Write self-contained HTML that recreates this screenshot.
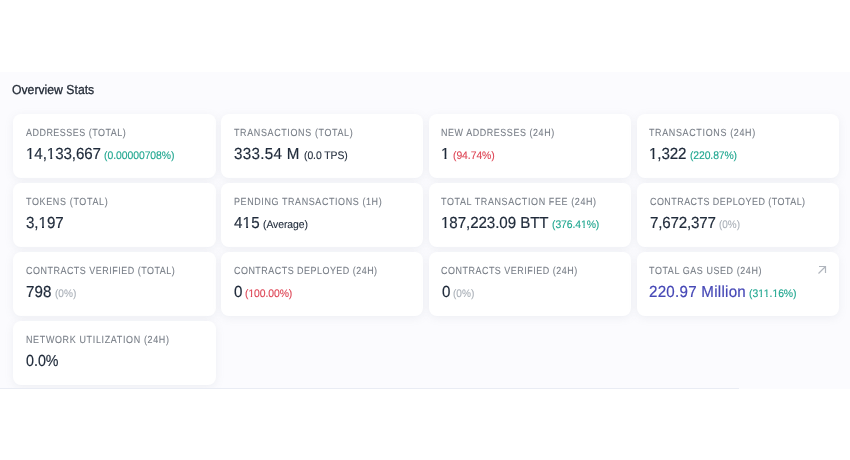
<!DOCTYPE html>
<html>
<head>
<meta charset="utf-8">
<style>
*{box-sizing:border-box;margin:0;padding:0}
html,body{width:850px;height:460px;background:#fff;overflow:hidden;font-family:"Liberation Sans",sans-serif;text-rendering:geometricPrecision;}
#sec{position:absolute;left:0;top:72px;width:850px;height:317px;background:#fbfbfe;overflow:hidden;}
#line{position:absolute;left:0;top:388px;width:738.5px;height:1px;background:#e9ecf4;}
.h{font-size:13px;line-height:16px;color:#1f2733;-webkit-text-stroke:0.3px #1f2733;}
.card{position:absolute;width:202.5px;height:63.6px;background:#fff;border-radius:8px;box-shadow:0 2px 8px rgba(140,152,164,.12);}
.t{position:absolute;white-space:nowrap;}
#txt{position:absolute;left:0;top:0;width:850px;height:460px;will-change:transform;}
.l{font-size:10.3px;line-height:12px;color:#777d86;-webkit-text-stroke:0.1px;}
.v{font-size:16px;line-height:20px;color:#1f2a3a;-webkit-text-stroke:0.2px;}
.s{font-size:11px;line-height:14px;color:#1f2a3a;-webkit-text-stroke:0.12px;}
.o{display:inline-block;}
.v .o{clip-path:polygon(0 0,100% 0,100% 11.9px,0.36em 11.9px,0.36em 100%,0.232em 100%,0.232em 11.9px,0 11.9px);}
.s .o{clip-path:polygon(0 0,100% 0,100% 7.9px,0.365em 7.9px,0.365em 100%,0.228em 100%,0.228em 7.9px,0 7.9px);}
.g{color:#1fa68f}.r{color:#dd4454}.m{color:#aab0b8}.d{color:#1f2a3a}.p{color:#4648b6}
</style>
</head>
<body>


<div id="sec">
<div class="card" style="left:13.0px;top:42.1px"></div>
<div class="card" style="left:220.9px;top:42.1px"></div>
<div class="card" style="left:428.8px;top:42.1px"></div>
<div class="card" style="left:636.7px;top:42.1px"></div>
<div class="card" style="left:13.0px;top:111.1px"></div>
<div class="card" style="left:220.9px;top:111.1px"></div>
<div class="card" style="left:428.8px;top:111.1px"></div>
<div class="card" style="left:636.7px;top:111.1px"></div>
<div class="card" style="left:13.0px;top:180.1px"></div>
<div class="card" style="left:220.9px;top:180.1px"></div>
<div class="card" style="left:428.8px;top:180.1px"></div>
<div class="card" style="left:636.7px;top:180.1px"></div>
<div class="card" style="left:13.0px;top:249.1px"></div>
</div>
<div id="line"></div>
<svg style="position:absolute;left:817px;top:265px" width="10" height="10" viewBox="0 0 10 10"><path d="M2 1.5 H8.5 V8 M8.5 1.5 L1.5 8.5" fill="none" stroke="#b0b5bd" stroke-width="1.2"/></svg>
<div id="txt">
<div id="ttl" class="t h " style="left:12.07px;top:81.50px;transform-origin:0 0.0px;transform:scale(0.9405,1.000)">Overview Stats</div>
<div id="l00" class="t l " style="left:26.34px;top:128.33px;letter-spacing:0.572px;transform-origin:0 0;transform:scaleX(0.870)">ADDRESSES (TOTAL)</div>
<div id="v00" class="t v " style="left:26.13px;top:144.86px;letter-spacing:-0.083px;transform-origin:0 0;transform:scaleX(0.945)"><span class="o">1</span>4,<span class="o">1</span>33,667</div>
<div id="s00" class="t s g" style="left:104.31px;top:149.48px;letter-spacing:-0.053px;transform-origin:0 0;transform:scaleX(0.945)">(0.00000708%)</div>
<div id="l01" class="t l " style="left:234.23px;top:128.33px;letter-spacing:0.726px;transform-origin:0 0;transform:scaleX(0.870)">TRANSACTIONS (TOTAL)</div>
<div id="v01" class="t v " style="left:233.73px;top:144.86px;letter-spacing:0.343px;transform-origin:0 0;transform:scaleX(0.945)">333.54 M</div>
<div id="s01" class="t s d" style="left:303.81px;top:149.48px;letter-spacing:-0.068px;transform-origin:0 0;transform:scaleX(0.945)">(0.0 TPS)</div>
<div id="l02" class="t l " style="left:441.16px;top:128.33px;letter-spacing:0.645px;transform-origin:0 0;transform:scaleX(0.870)">NEW ADDRESSES (24H)</div>
<div id="v02" class="t v " style="left:441.33px;top:144.86px;letter-spacing:0.000px;transform-origin:0 0;transform:scaleX(0.945)"><span class="o">1</span></div>
<div id="s02" class="t s r" style="left:452.72px;top:149.48px;letter-spacing:-0.064px;transform-origin:0 0;transform:scaleX(0.945)">(94.74%)</div>
<div id="l03" class="t l " style="left:649.18px;top:128.33px;letter-spacing:0.750px;transform-origin:0 0;transform:scaleX(0.870)">TRANSACTIONS (24H)</div>
<div id="v03" class="t v " style="left:649.23px;top:144.86px;letter-spacing:-0.091px;transform-origin:0 0;transform:scaleX(0.945)"><span class="o">1</span>,322</div>
<div id="s03" class="t s g" style="left:689.53px;top:149.48px;letter-spacing:-0.119px;transform-origin:0 0;transform:scaleX(0.945)">(220.87%)</div>
<div id="l10" class="t l " style="left:26.23px;top:197.33px;letter-spacing:0.753px;transform-origin:0 0;transform:scaleX(0.870)">TOKENS (TOTAL)</div>
<div id="v10" class="t v " style="left:25.64px;top:213.86px;letter-spacing:-0.047px;transform-origin:0 0;transform:scaleX(0.945)">3,<span class="o">1</span>97</div>
<div id="l11" class="t l " style="left:233.77px;top:197.33px;letter-spacing:0.690px;transform-origin:0 0;transform:scaleX(0.870)">PENDING TRANSACTIONS (1H)</div>
<div id="v11" class="t v " style="left:234.23px;top:213.86px;letter-spacing:0.220px;transform-origin:0 0;transform:scaleX(0.945)">4<span class="o">1</span>5</div>
<div id="s11" class="t s d" style="left:262.75px;top:218.48px;letter-spacing:-0.066px;transform-origin:0 0;transform:scaleX(0.945)">(Average)</div>
<div id="l12" class="t l " style="left:441.28px;top:197.33px;letter-spacing:0.708px;transform-origin:0 0;transform:scaleX(0.870)">TOTAL TRANSACTION FEE (24H)</div>
<div id="v12" class="t v " style="left:441.11px;top:213.86px;letter-spacing:-0.068px;transform-origin:0 0;transform:scaleX(0.945)"><span class="o">1</span>87,223.09 BTT</div>
<div id="s12" class="t s g" style="left:551.75px;top:218.48px;letter-spacing:-0.087px;transform-origin:0 0;transform:scaleX(0.945)">(376.4<span class="o">1</span>%)</div>
<div id="l13" class="t l " style="left:649.56px;top:197.33px;letter-spacing:0.531px;transform-origin:0 0;transform:scaleX(0.870)">CONTRACTS DEPLOYED (TOTAL)</div>
<div id="v13" class="t v " style="left:649.58px;top:213.86px;letter-spacing:-0.174px;transform-origin:0 0;transform:scaleX(0.945)">7,672,377</div>
<div id="s13" class="t s m" style="left:719.08px;top:218.48px;transform-origin:0 1.8px;transform:scale(0.9027,1.000)">(0%)</div>
<div id="l20" class="t l " style="left:25.56px;top:266.33px;letter-spacing:0.587px;transform-origin:0 0;transform:scaleX(0.870)">CONTRACTS VERIFIED (TOTAL)</div>
<div id="v20" class="t v " style="left:26.08px;top:282.86px;letter-spacing:0.159px;transform-origin:0 0;transform:scaleX(0.945)">798</div>
<div id="s20" class="t s m" style="left:55.00px;top:287.48px;transform-origin:0 1.8px;transform:scale(0.9144,1.000)">(0%)</div>
<div id="l21" class="t l " style="left:233.61px;top:266.33px;letter-spacing:0.559px;transform-origin:0 0;transform:scaleX(0.870)">CONTRACTS DEPLOYED (24H)</div>
<div id="v21" class="t v " style="left:234.02px;top:282.86px;letter-spacing:0.000px;transform-origin:0 0;transform:scaleX(0.945)">0</div>
<div id="s21" class="t s r" style="left:245.22px;top:287.48px;letter-spacing:-0.086px;transform-origin:0 0;transform:scaleX(0.945)">(<span class="o">1</span>00.00%)</div>
<div id="l22" class="t l " style="left:441.06px;top:266.33px;letter-spacing:0.590px;transform-origin:0 0;transform:scaleX(0.870)">CONTRACTS VERIFIED (24H)</div>
<div id="v22" class="t v " style="left:441.86px;top:282.86px;letter-spacing:0.000px;transform-origin:0 0;transform:scaleX(0.945)">0</div>
<div id="s22" class="t s m" style="left:452.74px;top:287.48px;transform-origin:0 1.8px;transform:scale(0.9179,1.000)">(0%)</div>
<div id="l23" class="t l " style="left:649.23px;top:266.33px;letter-spacing:0.671px;transform-origin:0 0;transform:scaleX(0.870)">TOTAL GAS USED (24H)</div>
<div id="v23" class="t v p" style="left:649.21px;top:282.86px;letter-spacing:0.278px;transform-origin:0 0;transform:scaleX(0.945)">220.97 Million</div>
<div id="s23" class="t s g" style="left:748.81px;top:287.48px;letter-spacing:-0.064px;transform-origin:0 0;transform:scaleX(0.945)">(3<span class="o">1</span><span class="o">1</span>.<span class="o">1</span>6%)</div>
<div id="l30" class="t l " style="left:25.66px;top:335.33px;letter-spacing:0.751px;transform-origin:0 0;transform:scaleX(0.870)">NETWORK UTILIZATION (24H)</div>
<div id="v30" class="t v " style="left:26.07px;top:351.86px;transform-origin:0 3.1px;transform:scale(0.8919,1.000)">0.0%</div>
</div>
</body>
</html>
